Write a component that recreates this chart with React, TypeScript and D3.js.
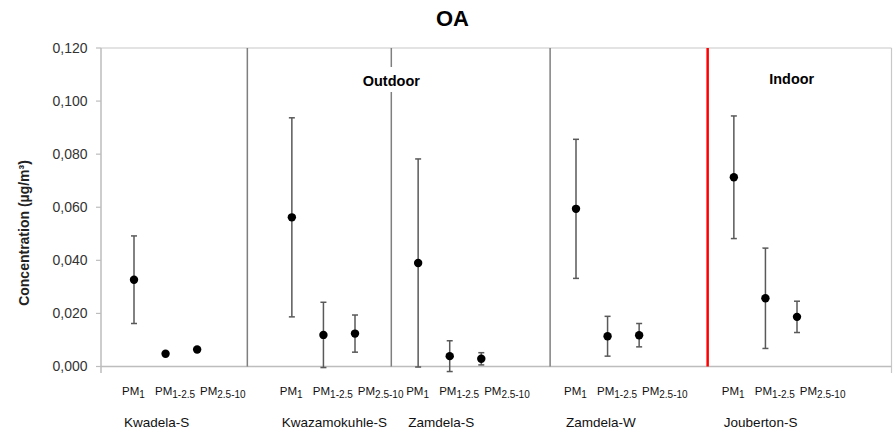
import React from "react";
import * as d3 from "d3";

// Sampling sites and the size fractions measured at each
const sites = ["Kwadela-S", "Kwazamokuhle-S", "Zamdela-S", "Zamdela-W", "Jouberton-S"];
const fractions = ["1", "1-2.5", "2.5-10"];
// Category slot of the first fraction of each site (empty slots separate groups)
const siteSlots = [0, 5, 9, 14, 19];

// Mean OA concentration (µg/m³) per site, one array per fraction
const meanPM1 = [0.0327, 0.0562, 0.039, 0.0594, 0.0713];
const meanPM1_25 = [0.0048, 0.0119, 0.0039, 0.0114, 0.0257];
const meanPM25_10 = [0.0064, 0.0124, 0.0029, 0.0118, 0.0187];

// Standard deviations drawn as error bars
const sdPM1 = [0.0165, 0.0375, 0.0392, 0.0262, 0.0231];
const sdPM1_25 = [0, 0.0123, 0.0058, 0.0075, 0.0189];
const sdPM25_10 = [0, 0.007, 0.0023, 0.0044, 0.0059];

// Divider lines between site groups (in category units); the last one splits outdoor/indoor
const dividers = [3.59, 8.15, 13.18, 18.17];

const yTicks = [0, 0.02, 0.04, 0.06, 0.08, 0.1, 0.12];

const W = 893;
const H = 433;
const left = 101;
const right = 891.5;
const top = 48;
const bottom = 366.5;

const x = d3.scaleLinear().domain([0, 21]).range([134, 797]);
const y = d3.scaleLinear().domain([0, 0.12]).range([bottom, top]);
const fmt = (v: number) => d3.format(".3f")(v).replace(".", ",");

const FONT = "'Liberation Sans', Arial, sans-serif";

export default function App() {
  const means = [meanPM1, meanPM1_25, meanPM25_10];
  const sds = [sdPM1, sdPM1_25, sdPM25_10];
  const points = sites.flatMap((site, s) =>
    fractions.map((f, k) => ({
      key: `${site}-${f}`,
      slot: siteSlots[s] + k,
      mean: means[k][s],
      sd: sds[k][s],
    }))
  );
  const labelOffsets = [0, 33, 78];

  return (
    <svg width={W} height={H} style={{ display: "block", position: "absolute", left: 0, top: 0 }} fontFamily={FONT}>
      <rect x={0} y={0} width={W} height={H} fill="#fff" />
      <text x={452.5} y={26} textAnchor="middle" fontSize={22} fontWeight="bold" fill="#000">
        OA
      </text>

      {/* plot frame */}
      <line x1={left} x2={right} y1={top} y2={top} stroke="#c8c8c8" strokeWidth={1.2} />
      <line x1={right} x2={right} y1={top} y2={373} stroke="#c8c8c8" strokeWidth={1.2} />
      <line x1={left} x2={left} y1={top} y2={373} stroke="#bdbdbd" strokeWidth={1.5} />
      <line x1={left} x2={right} y1={bottom} y2={bottom} stroke="#bdbdbd" strokeWidth={1.5} />

      {/* y axis ticks and labels */}
      {yTicks.map((t) => (
        <g key={t}>
          <line x1={96} x2={left} y1={y(t)} y2={y(t)} stroke="#bdbdbd" strokeWidth={1.2} />
          <text x={87.5} y={y(t)} dy="0.35em" textAnchor="end" fontSize={14} fill="#333">
            {fmt(t)}
          </text>
        </g>
      ))}
      <text
        transform={`translate(29,233) rotate(-90)`}
        textAnchor="middle"
        fontSize={14}
        fontWeight="bold"
        fill="#222"
      >
        Concentration (µg/m³)
      </text>

      {/* group dividers */}
      {dividers.map((d, i) => {
        const px = x(d);
        const last = i === dividers.length - 1;
        if (i === 1) {
          return (
            <g key={d}>
              <line x1={px} x2={px} y1={top} y2={67} stroke="#7f7f7f" strokeWidth={1.5} />
              <line x1={px} x2={px} y1={92} y2={bottom} stroke="#7f7f7f" strokeWidth={1.5} />
            </g>
          );
        }
        return (
          <line
            key={d}
            x1={px}
            x2={px}
            y1={top}
            y2={bottom}
            stroke={last ? "#ff0000" : "#7f7f7f"}
            strokeWidth={last ? 2.5 : 1.5}
          />
        );
      })}

      <text x={x(dividers[1])} y={86} textAnchor="middle" fontSize={14.5} fontWeight="bold" fill="#000">
        Outdoor
      </text>
      <text x={791.7} y={84} textAnchor="middle" fontSize={14.4} fontWeight="bold" fill="#000">
        Indoor
      </text>

      {/* error bars and means */}
      {points.map((p) => {
        const cx = x(p.slot);
        return (
          <g key={p.key}>
            {p.sd > 0 && (
              <g stroke="#595959" strokeWidth={1.5}>
                <line x1={cx} x2={cx} y1={y(p.mean + p.sd)} y2={y(p.mean - p.sd)} />
                <line x1={cx - 3} x2={cx + 3} y1={y(p.mean + p.sd)} y2={y(p.mean + p.sd)} />
                <line x1={cx - 3} x2={cx + 3} y1={y(p.mean - p.sd)} y2={y(p.mean - p.sd)} />
              </g>
            )}
            <circle cx={cx} cy={y(p.mean)} r={4.2} fill="#000" />
          </g>
        );
      })}

      {/* fraction and site labels */}
      {sites.map((site, s) => {
        const x0 = x(siteSlots[s]) - 12;
        return (
          <g key={site}>
            {fractions.map((f, k) => (
              <text key={f} x={x0 + labelOffsets[k]} y={395} fontSize={11.5} fill="#111">
                PM
                <tspan fontSize={10} dy={3}>
                  {f}
                </tspan>
              </text>
            ))}
            <text x={x0 + 2} y={426.7} fontSize={13.5} fill="#111">
              {site}
            </text>
          </g>
        );
      })}
    </svg>
  );
}
